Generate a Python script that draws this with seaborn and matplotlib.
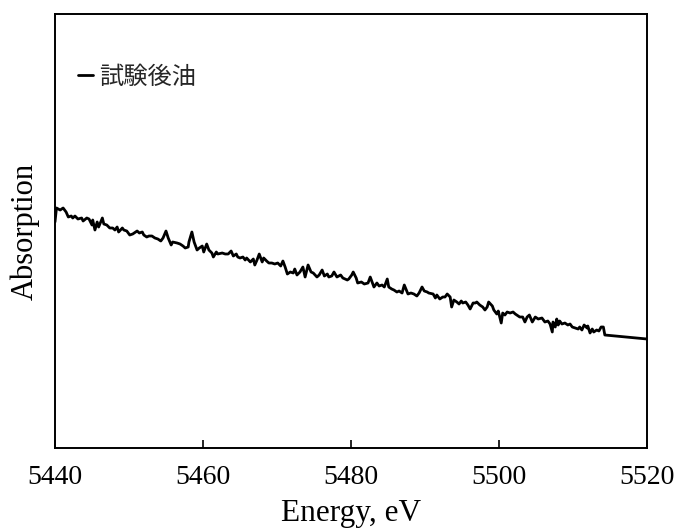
import matplotlib
matplotlib.use('Agg')
import matplotlib.pyplot as plt
import numpy as np
import pandas as pd
import seaborn as sns

# values (absorption in arbitrary units)
energy = [
    5440.0, 5440.2, 5440.7, 5441.1, 5441.5, 5441.8, 5442.2, 5442.4, 5442.7, 5443.1,
    5443.6, 5443.8, 5444.3, 5444.6, 5445.0, 5445.1, 5445.4, 5445.7, 5445.9, 5446.4,
    5446.6, 5447.0, 5447.4, 5447.8, 5448.1, 5448.4, 5448.6, 5449.1, 5449.3, 5449.7,
    5450.1, 5450.5, 5451.1, 5451.4, 5451.8, 5452.0, 5452.4, 5452.7, 5453.1, 5453.5,
    5453.9, 5454.3, 5454.6, 5455.0, 5455.3, 5455.7, 5455.9, 5456.5, 5456.9, 5457.3,
    5457.6, 5458.0, 5458.1, 5458.5, 5458.8, 5459.2, 5459.5, 5459.9, 5460.1, 5460.5,
    5460.8, 5461.2, 5461.4, 5461.8, 5462.0, 5462.6, 5463.0, 5463.4, 5463.8, 5464.1,
    5464.5, 5464.7, 5465.0, 5465.4, 5465.7, 5465.9, 5466.4, 5466.8, 5467.0, 5467.3,
    5467.6, 5468.0, 5468.2, 5468.6, 5468.9, 5469.3, 5469.7, 5470.1, 5470.5, 5470.8,
    5471.1, 5471.4, 5471.8, 5472.2, 5472.4, 5472.7, 5473.1, 5473.5, 5473.8, 5474.2,
    5474.6, 5474.9, 5475.4, 5475.7, 5476.1, 5476.4, 5476.8, 5477.0, 5477.4, 5477.7,
    5478.1, 5478.6, 5478.9, 5479.5, 5479.7, 5480.1, 5480.3, 5480.7, 5480.9, 5481.4,
    5481.8, 5482.3, 5482.6, 5482.8, 5483.1, 5483.5, 5483.8, 5484.2, 5484.5, 5484.9,
    5485.1, 5485.5, 5485.8, 5486.2, 5486.5, 5486.9, 5487.2, 5487.6, 5487.7, 5488.1,
    5488.5, 5488.9, 5489.2, 5489.6, 5489.9, 5490.3, 5490.5, 5491.1, 5491.4, 5491.6,
    5492.0, 5492.4, 5492.7, 5493.0, 5493.4, 5493.6, 5493.9, 5494.3, 5494.6, 5494.9,
    5495.1, 5495.5, 5495.8, 5496.1, 5496.5, 5496.8, 5497.0, 5497.4, 5497.8, 5498.1,
    5498.4, 5498.6, 5499.1, 5499.3, 5499.7, 5499.9, 5500.3, 5500.5, 5500.8, 5501.1,
    5501.5, 5501.9, 5502.2, 5502.4, 5502.8, 5503.2, 5503.5, 5503.8, 5504.1, 5504.5,
    5504.9, 5505.3, 5505.8, 5506.2, 5506.6, 5506.9, 5507.2, 5507.3, 5507.6, 5507.8,
    5508.0, 5508.2, 5508.5, 5508.9, 5509.3, 5509.6, 5509.9, 5510.3, 5510.7, 5510.9,
    5511.2, 5511.5, 5511.9, 5512.0, 5512.3, 5512.6, 5512.8, 5513.2, 5513.5, 5513.8,
    5514.1, 5514.3, 5520.0,
]
absorption = [
    2.26, 2.40, 2.38, 2.40, 2.36, 2.31, 2.32, 2.30, 2.32, 2.29,
    2.30, 2.27, 2.30, 2.29, 2.23, 2.28, 2.18, 2.26, 2.21, 2.30,
    2.24, 2.23, 2.20, 2.20, 2.18, 2.21, 2.16, 2.20, 2.18, 2.17,
    2.13, 2.14, 2.17, 2.15, 2.16, 2.13, 2.11, 2.12, 2.12, 2.10,
    2.09, 2.07, 2.10, 2.17, 2.10, 2.03, 2.06, 2.05, 2.04, 2.02,
    2.00, 2.01, 2.06, 2.16, 2.06, 1.98, 2.00, 2.02, 1.96, 2.04,
    1.98, 1.95, 1.91, 1.96, 1.94, 1.95, 1.94, 1.94, 1.97, 1.92,
    1.94, 1.91, 1.90, 1.91, 1.88, 1.90, 1.86, 1.89, 1.83, 1.88,
    1.94, 1.86, 1.90, 1.87, 1.85, 1.85, 1.84, 1.85, 1.82, 1.87,
    1.81, 1.74, 1.76, 1.75, 1.79, 1.73, 1.76, 1.81, 1.71, 1.83,
    1.76, 1.75, 1.71, 1.73, 1.78, 1.72, 1.74, 1.71, 1.72, 1.76,
    1.71, 1.73, 1.70, 1.68, 1.69, 1.73, 1.76, 1.70, 1.65, 1.66,
    1.64, 1.65, 1.71, 1.67, 1.61, 1.65, 1.62, 1.63, 1.61, 1.69,
    1.61, 1.59, 1.58, 1.56, 1.57, 1.55, 1.63, 1.56, 1.54, 1.55,
    1.54, 1.52, 1.55, 1.61, 1.57, 1.56, 1.55, 1.54, 1.50, 1.53,
    1.49, 1.51, 1.51, 1.54, 1.51, 1.41, 1.48, 1.46, 1.44, 1.47,
    1.45, 1.46, 1.43, 1.39, 1.45, 1.45, 1.46, 1.43, 1.41, 1.38,
    1.41, 1.46, 1.42, 1.38, 1.34, 1.37, 1.25, 1.35, 1.33, 1.36,
    1.35, 1.36, 1.34, 1.33, 1.31, 1.31, 1.26, 1.31, 1.33, 1.26,
    1.31, 1.29, 1.30, 1.26, 1.27, 1.24, 1.16, 1.26, 1.21, 1.29,
    1.23, 1.27, 1.24, 1.25, 1.23, 1.24, 1.21, 1.20, 1.19, 1.21,
    1.18, 1.23, 1.20, 1.22, 1.15, 1.19, 1.16, 1.18, 1.17, 1.21,
    1.21, 1.13, 1.09,
]
xticks = [5440, 5460, 5480, 5500, 5520]
series_name = '試験後油'

df = pd.DataFrame({'Energy': energy, 'Absorption': absorption})

sns.set_theme(style='ticks')
plt.rcParams['font.family'] = ['Liberation Serif', 'DejaVu Serif']

fig = plt.figure(figsize=(6.78, 5.28), dpi=100)
ax = fig.add_axes([0.0811, 0.1515, 0.8732, 0.822])

sns.lineplot(data=df, x='Energy', y='Absorption', color='black', lw=2.0,
             label=series_name, ax=ax, sort=False)

ax.set_xlim(5440, 5520)
ax.set_ylim(0, 4.34)
ax.set_xticks(xticks)
ax.set_yticks([])
ax.tick_params(axis='x', direction='in', length=6, width=1.2, pad=12,
               labelsize=20, colors='black')
for s in ax.spines.values():
    s.set_color('black')
    s.set_linewidth(1.4)
ax.set_xlabel('Energy, eV', fontsize=22.5, labelpad=7, color='black')
ax.set_ylabel('Absorption', fontsize=22, labelpad=11, color='black')

leg = ax.legend(loc='upper left', frameon=False, handlelength=0.6,
                handletextpad=0.25, bbox_to_anchor=(0.002, 0.936),
                prop={'family': ['Noto Sans CJK JP', 'DejaVu Sans'], 'size': 17.5})

fig.savefig('out.png', dpi=100)
